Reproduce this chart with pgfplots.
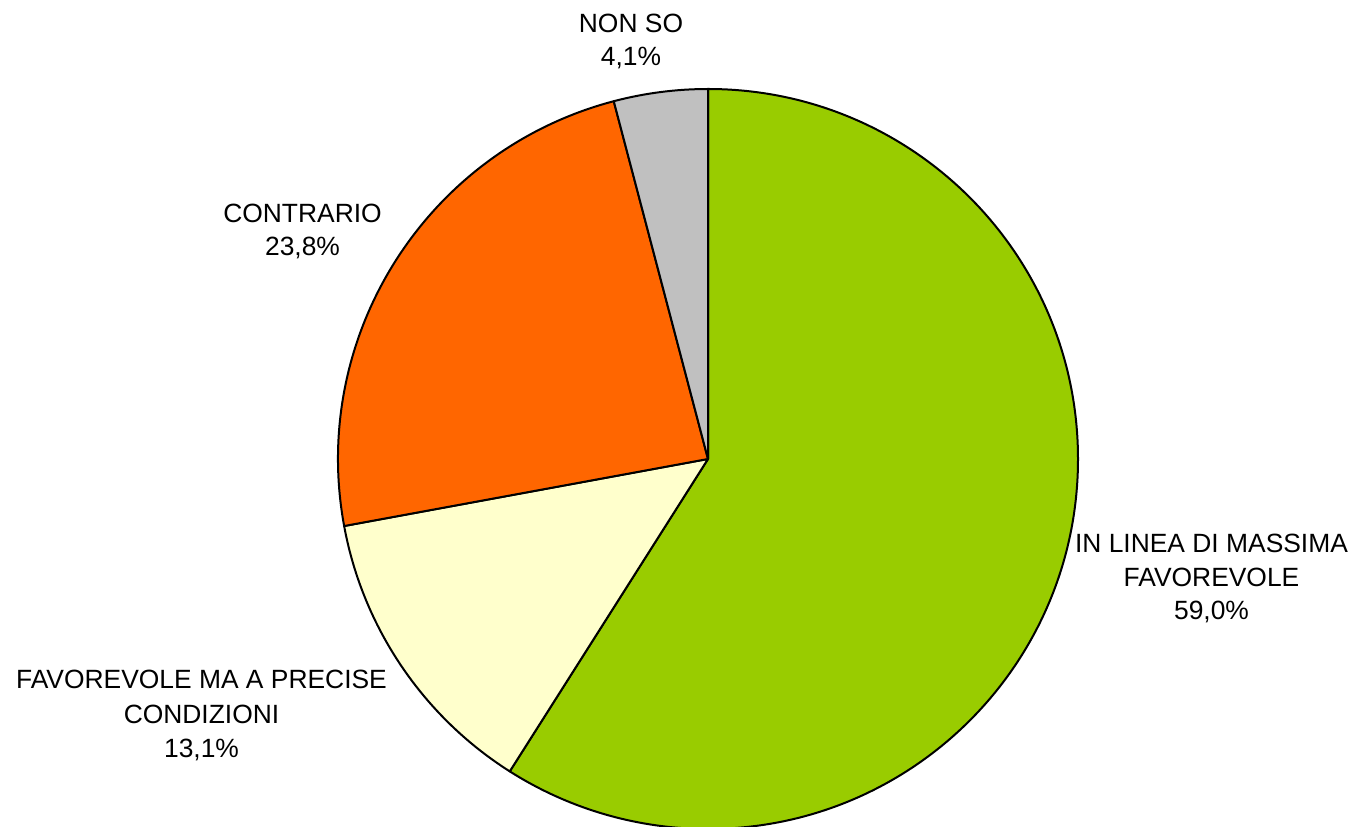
\documentclass[border=0pt]{standalone}
\usepackage{pgfplots}
\usepackage{pgfplotstable}
\usepackage{fontspec}
\setmainfont{Liberation Sans}
\pgfplotsset{compat=1.18}
\definecolor{cgreen}{HTML}{99CC00}
\definecolor{cyellow}{HTML}{FFFFCC}
\definecolor{corange}{HTML}{FF6600}
\definecolor{cgray}{HTML}{C0C0C0}
\pgfplotstableread{
share
59.0
13.1
23.8
4.1
}\piedata
\tikzset{lbl/.style={anchor=base, inner sep=0pt, font=\fontsize{13.2bp}{16bp}\selectfont}}
\begin{document}
\begin{tikzpicture}
\pgfplotstablegetelem{0}{share}\of\piedata \let\vA\pgfplotsretval
\pgfplotstablegetelem{1}{share}\of\piedata \let\vB\pgfplotsretval
\pgfplotstablegetelem{2}{share}\of\piedata \let\vC\pgfplotsretval
\pgfplotstablegetelem{3}{share}\of\piedata \let\vD\pgfplotsretval
\pgfmathsetmacro\aA{90}
\pgfmathsetmacro\aB{\aA-3.6*\vA}
\pgfmathsetmacro\aC{\aB-3.6*\vB}
\pgfmathsetmacro\aD{\aC-3.6*\vC}
\pgfmathsetmacro\aE{\aD-3.6*\vD}
\begin{axis}[
  width=678.5bp, height=413.5bp, scale only axis,
  xmin=0, xmax=1357, ymin=0, ymax=827,
  hide axis,
]
\addplot[draw=none] coordinates {(0,0) (1357,827)};
\filldraw[fill=cgreen, draw=black, line width=1bp, line join=round]
  (axis cs:708,368) -- ++(\aA:185bp) arc[start angle=\aA, end angle=\aB, radius=185bp] -- cycle;
\filldraw[fill=cyellow, draw=black, line width=1bp, line join=round]
  (axis cs:708,368) -- ++(\aB:185bp) arc[start angle=\aB, end angle=\aC, radius=185bp] -- cycle;
\filldraw[fill=corange, draw=black, line width=1bp, line join=round]
  (axis cs:708,368) -- ++(\aC:185bp) arc[start angle=\aC, end angle=\aD, radius=185bp] -- cycle;
\filldraw[fill=cgray, draw=black, line width=1bp, line join=round]
  (axis cs:708,368) -- ++(\aD:185bp) arc[start angle=\aD, end angle=\aE, radius=185bp] -- cycle;
% labels
\node[lbl] at (axis cs:631,794) {NON SO};
\node[lbl] at (axis cs:631,761) {4,1\%};
\node[lbl] at (axis cs:302.5,604) {CONTRARIO};
\node[lbl] at (axis cs:302.5,571) {23,8\%};
\node[lbl] at (axis cs:1211.5,274) {IN LINEA DI MASSIMA};
\node[lbl] at (axis cs:1211.5,240) {FAVOREVOLE};
\node[lbl] at (axis cs:1211.5,207) {59,0\%};
\node[lbl] at (axis cs:201.5,138) {FAVOREVOLE MA A PRECISE};
\node[lbl] at (axis cs:201.5,103) {CONDIZIONI};
\node[lbl] at (axis cs:201.5,69) {13,1\%};
\end{axis}
\end{tikzpicture}
\end{document}
